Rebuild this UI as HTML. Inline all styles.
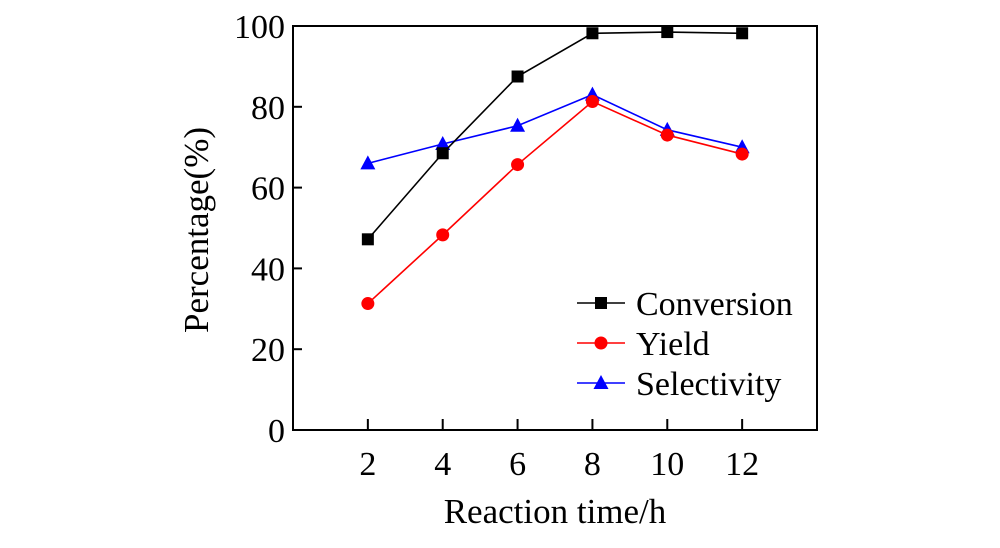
<!DOCTYPE html>
<html><head><meta charset="utf-8"><style>
body{margin:0;background:#fff}
svg text{font-family:"Liberation Serif",serif;fill:#000}
</style></head><body>
<svg id="chart" width="1000" height="543" viewBox="0 0 1000 543" xmlns="http://www.w3.org/2000/svg"></svg>
<script>
const categories=[2,4,6,8,10,12];
const conversion=[47.2,68.5,87.5,98.2,98.5,98.2];
const yieldVals=[31.3,48.3,65.7,81.3,73.0,68.3];
const selectivity=[66.0,70.8,75.3,83.0,74.3,70.0];
const yTicks=[0,20,40,60,80,100];
const xTicks=[2,4,6,8,10,12];

const L=293,R=817,T=26,B=430;
const xs=v=>L+(v/14)*(R-L);
const ys=v=>B-(v/100)*(B-T);
const svg=document.getElementById('chart');
const NS='http://www.w3.org/2000/svg';
function mk(tag,attrs,parent){const e=document.createElementNS(NS,tag);for(const k in attrs)e.setAttribute(k,attrs[k]);(parent||svg).appendChild(e);return e;}

const frame=mk('rect',{x:L,y:T,width:R-L,height:B-T,fill:'none',stroke:'#000','stroke-width':2});



yTicks.forEach(v=>{
  const t=mk('line',{x1:L,x2:L+9,y1:ys(v),y2:ys(v),stroke:'#000','stroke-width':2});
  
  
  const lb=mk('text',{x:L-8,y:ys(v)+12,'text-anchor':'end','font-size':34});
  lb.textContent=v;
  
  
});
xTicks.forEach(v=>{
  const t=mk('line',{x1:xs(v),x2:xs(v),y1:B,y2:B-11,stroke:'#000','stroke-width':2});
  
  
  const lb=mk('text',{x:xs(v),y:B+45,'text-anchor':'middle','font-size':34});
  lb.textContent=v;
  
  
});
const xt=mk('text',{x:555,y:523,'text-anchor':'middle','font-size':35});
xt.textContent='Reaction time/h';


const yt=mk('text',{x:0,y:0,'text-anchor':'middle','font-size':35,transform:'translate(208,230) rotate(-90)'});
yt.textContent='Percentage(%)';



function marker(type,x,y,color,g){
  if(type==='square')return mk('rect',{x:x-6,y:y-6,width:12,height:12,fill:color},g);
  if(type==='circle')return mk('circle',{cx:x,cy:y,r:6.5,fill:color},g);
  return mk('polygon',{points:`${x},${y-8} ${x-7.5},${y+6} ${x+7.5},${y+6}`,fill:color},g);
}
const series=[
  {name:'selectivity',vals:selectivity,color:'#0000ff',m:'tri'},
  {name:'yield',vals:yieldVals,color:'#ff0000',m:'circle'},
  {name:'conversion',vals:conversion,color:'#000000',m:'square'}
];
series.forEach(s=>{
  const g=mk('g',{});
  
  
  const pl=mk('polyline',{points:s.vals.map((v,i)=>xs(categories[i])+','+ys(v)).join(' '),fill:'none',stroke:s.color,'stroke-width':1.6},g);
  
  
  s.vals.forEach((v,i)=>{
    const p=marker(s.m,xs(categories[i]),ys(v),s.color,g);
    
    
  });
});
const legend=[['Conversion','#000','square'],['Yield','#ff0000','circle'],['Selectivity','#0000ff','tri']];
legend.forEach((e,i)=>{
  const y=303+i*40;
  const g=mk('g',{});
  
  
  mk('line',{x1:577,x2:625,y1:y,y2:y,stroke:e[1],'stroke-width':1.6},g);
  marker(e[2],601,y,e[1],g);
  const t=mk('text',{x:636,y:y+12,'font-size':34},g);
  t.textContent=e[0];
});
</script>
</body></html>
